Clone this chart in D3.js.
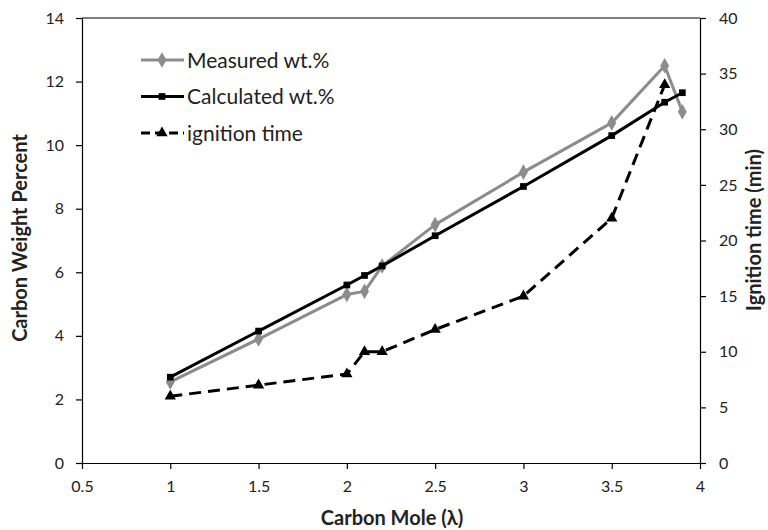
<!DOCTYPE html>
<html>
<head>
<meta charset="utf-8">
<script src="https://cdn.jsdelivr.net/npm/d3@7"></script>
<style>
  body { margin: 0; background: #fff; }
  text { font-family: Lato, "Open Sans", sans-serif; }
</style>
</head>
<body>
<svg id="chart" width="768" height="530"></svg>
<script>
const moles = [1, 1.5, 2, 2.1, 2.2, 2.5, 3, 3.5, 3.8, 3.9];
const measured = [2.55, 3.9, 5.3, 5.4, 6.2, 7.5, 9.15, 10.7, 12.5, 11.05];
const calculated = [2.7, 4.15, 5.6, 5.9, 6.2, 7.15, 8.7, 10.3, 11.35, 11.65];
const ignitionMoles = [1, 1.5, 2, 2.1, 2.2, 2.5, 3, 3.5, 3.8];
const ignition = [6, 7, 8, 10, 10, 12, 15, 22, 34];

const xTicks = [0.5, 1, 1.5, 2, 2.5, 3, 3.5, 4];
const yTicks = [0, 2, 4, 6, 8, 10, 12, 14];
const y2Ticks = [0, 5, 10, 15, 20, 25, 30, 35, 40];

const margin = {top: 18, right: 68, bottom: 67, left: 82},
      width = 768 - margin.left - margin.right,
      height = 530 - margin.top - margin.bottom;

const svg = d3.select("#chart");
const g = svg.append("g")
  .attr("transform", "translate(" + margin.left + "," + margin.top + ")");

const x = d3.scaleLinear().domain([0.5, 4]).range([0, width]);
const y = d3.scaleLinear().domain([0, 14]).range([height, 0]);
const y2 = d3.scaleLinear().domain([0, 40]).range([height, 0]);

// top border
g.append("line")
  .attr("x1", 0).attr("x2", width)
  .attr("y1", 0).attr("y2", 0)
  .attr("stroke", "#000").attr("stroke-width", 1.2);

const styleAxis = function(sel) {
  sel.select(".domain").attr("stroke", "#000").attr("stroke-width", 1.2);
  sel.selectAll(".tick line").attr("stroke", "#000").attr("stroke-width", 1.2);
  sel.selectAll(".tick text").attr("font-size", 16).attr("fill", "#222")
    .style("font-family", "Lato, 'Open Sans', sans-serif");
}

g.append("g")
  .attr("transform", "translate(0," + height + ")")
  .call(d3.axisBottom(x).tickValues(xTicks).tickSize(6).tickPadding(12).tickSizeOuter(0)
    .tickFormat(d3.format("")))
  .call(styleAxis);

g.append("g")
  .call(d3.axisLeft(y).tickValues(yTicks).tickSize(6).tickPadding(12).tickSizeOuter(0))
  .call(styleAxis);

g.append("g")
  .attr("transform", "translate(" + width + ",0)")
  .call(d3.axisRight(y2).tickValues(y2Ticks).tickSize(6).tickPadding(13).tickSizeOuter(0))
  .call(styleAxis);

// axis titles
svg.append("text")
  .attr("x", margin.left + width / 2 + 1).attr("y", 525)
  .attr("text-anchor", "middle")
  .attr("font-size", 20).attr("font-weight", "bold").attr("fill", "#222")
  .text("Carbon Mole (λ)");

svg.append("text")
  .attr("transform", "translate(27,238) rotate(-90)")
  .attr("text-anchor", "middle")
  .attr("font-size", 20).attr("font-weight", "bold").attr("fill", "#222")
  .text("Carbon Weight Percent");

svg.append("text")
  .attr("transform", "translate(761,230) rotate(-90)")
  .attr("text-anchor", "middle")
  .attr("font-size", 20).attr("font-weight", "bold").attr("fill", "#222")
  .text("Ignition time (min)");

const measuredPts = moles.map(function(m, i){ return [m, measured[i]]; });
const calcPts = moles.map(function(m, i){ return [m, calculated[i]]; });
const ignPts = ignitionMoles.map(function(m, i){ return [m, ignition[i]]; });

const line1 = d3.line().x(function(d){ return x(d[0]); }).y(function(d){ return y(d[1]); });
const line2 = d3.line().x(function(d){ return x(d[0]); }).y(function(d){ return y2(d[1]); });

const diamond = d3.symbol().type(d3.symbolDiamond).size(70);
const square = d3.symbol().type(d3.symbolSquare).size(45);
const triangle = d3.symbol().type(d3.symbolTriangle).size(55);

// ignition time
g.append("path")
  .attr("d", line2(ignPts))
  .attr("fill", "none").attr("stroke", "#000").attr("stroke-width", 3)
  .attr("stroke-dasharray", "12,7");
g.selectAll(".ign")
  .data(ignPts)
  .join("path")
    .attr("class", "ign")
    .attr("transform", function(d){ return "translate(" + x(d[0]) + "," + y2(d[1]) + ")"; })
    .attr("d", triangle)
    .attr("fill", "#000");

// measured
g.append("path")
  .attr("d", line1(measuredPts))
  .attr("fill", "none").attr("stroke", "#8c8c8c").attr("stroke-width", 3)
  .attr("stroke-linejoin", "round");
g.selectAll(".meas")
  .data(measuredPts)
  .join("path")
    .attr("class", "meas")
    .attr("transform", function(d){ return "translate(" + x(d[0]) + "," + y(d[1]) + ")"; })
    .attr("d", diamond)
    .attr("fill", "#8c8c8c");

// calculated
g.append("path")
  .attr("d", line1(calcPts))
  .attr("fill", "none").attr("stroke", "#000").attr("stroke-width", 3)
  .attr("stroke-linejoin", "round");
g.selectAll(".calc")
  .data(calcPts)
  .join("path")
    .attr("class", "calc")
    .attr("transform", function(d){ return "translate(" + x(d[0]) + "," + y(d[1]) + ")"; })
    .attr("d", square)
    .attr("fill", "#000");

// legend
const legendItems = [
  {name: "Measured wt.%", color: "#8c8c8c", dash: null, sym: diamond},
  {name: "Calculated wt.%", color: "#000", dash: null, sym: square},
  {name: "ignition time", color: "#000", dash: "9,5", sym: triangle}
];
const legend = svg.append("g").attr("transform", "translate(141,60)");
const li = legend.selectAll("g")
  .data(legendItems)
  .join("g")
    .attr("transform", function(d, i){ return "translate(0," + (i * 36.5) + ")"; });
li.append("line")
  .attr("x1", 0).attr("x2", 43).attr("y1", 0).attr("y2", 0)
  .attr("stroke", function(d){ return d.color; })
  .attr("stroke-width", 3)
  .attr("stroke-dasharray", function(d){ return d.dash; });
li.append("path")
  .attr("transform", "translate(21,0)")
  .attr("d", function(d){ return d.sym(); })
  .attr("fill", function(d){ return d.color; });
li.append("text")
  .attr("x", 46).attr("y", 7.5)
  .attr("font-size", 21).attr("fill", "#222")
  .text(function(d){ return d.name; });
</script>
</body>
</html>
